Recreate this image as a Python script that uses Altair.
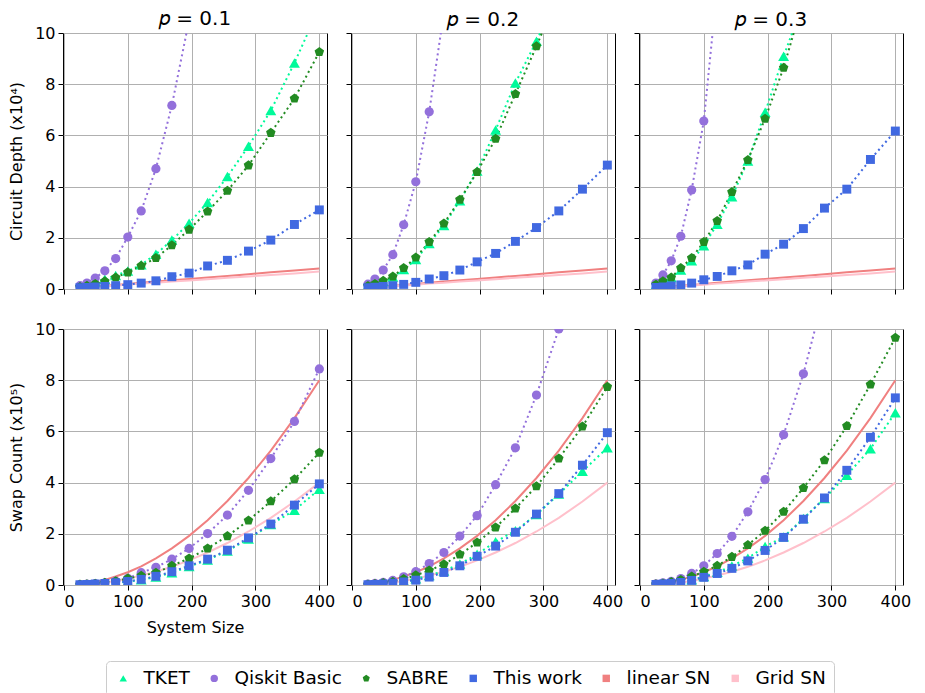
import altair as alt
import pandas as pd

# ---------------- data ----------------
sizes = [25, 36, 49, 64, 81, 100, 121, 144, 169, 196, 225, 256, 289, 324, 361, 400]

series_names = ["TKET", "Qiskit Basic", "SABRE", "This work", "linear SN", "Grid SN"]
series_colors = ["#00FA9A", "#9370DB", "#228B22", "#4169E1", "#F08080", "#FFC0CB"]
PENTAGON = "M0,-1L0.951,-0.309L0.588,0.809L-0.588,0.809L-0.951,-0.309Z"
series_shapes = ["triangle-up", "circle", PENTAGON, "square", "square", "square"]
marker_sizes = [120, 85, 100, 80, 80, 80]

p_labels = ["𝑝 = 0.1", "𝑝 = 0.2", "𝑝 = 0.3"]

# Circuit depth (x10^4)
depth_p01_tket = [0.10, 0.17, 0.27, 0.38, 0.53, 0.70, 0.95, 1.36, 1.91, 2.57, 3.38, 4.39, 5.58, 6.97, 8.83, 11.0]
depth_p01_qiskit = [0.13, 0.23, 0.43, 0.71, 1.19, 2.03, 3.05, 4.70, 7.17, 10.5]
depth_p01_sabre = [0.08, 0.13, 0.20, 0.30, 0.45, 0.65, 0.91, 1.21, 1.71, 2.32, 3.03, 3.84, 4.83, 6.10, 7.44, 9.26]
depth_p01_this = [0.05, 0.06, 0.08, 0.10, 0.13, 0.17, 0.23, 0.32, 0.48, 0.62, 0.90, 1.12, 1.48, 1.91, 2.52, 3.09]

depth_p02_tket = [0.12, 0.19, 0.29, 0.47, 0.76, 1.15, 1.78, 2.48, 3.45, 4.61, 6.21, 8.05, 9.68, 11.6]
depth_p02_qiskit = [0.19, 0.39, 0.74, 1.34, 2.51, 4.19, 6.92, 10.8]
depth_p02_sabre = [0.12, 0.20, 0.32, 0.49, 0.82, 1.23, 1.84, 2.56, 3.49, 4.57, 5.87, 7.62, 9.48, 11.6]
depth_p02_this = [0.05, 0.07, 0.10, 0.13, 0.18, 0.26, 0.39, 0.52, 0.74, 1.06, 1.39, 1.86, 2.40, 3.05, 3.90, 4.84]

depth_p03_tket = [0.16, 0.28, 0.45, 0.74, 1.10, 1.69, 2.53, 3.60, 5.00, 6.90, 9.09, 11.2]
depth_p03_qiskit = [0.23, 0.55, 1.10, 2.06, 3.87, 6.56, 11.8]
depth_p03_sabre = [0.17, 0.30, 0.45, 0.82, 1.21, 1.84, 2.66, 3.79, 5.04, 6.65, 8.64, 11.3]
depth_p03_this = [0.06, 0.08, 0.12, 0.16, 0.23, 0.36, 0.49, 0.71, 0.94, 1.36, 1.75, 2.36, 3.16, 3.90, 5.06, 6.17]

depth_linear_sn = [0.05, 0.07, 0.10, 0.13, 0.16, 0.20, 0.24, 0.29, 0.34, 0.39, 0.45, 0.51, 0.58, 0.65, 0.72, 0.80]
depth_grid_sn = [0.04, 0.06, 0.08, 0.11, 0.14, 0.17, 0.21, 0.24, 0.29, 0.33, 0.38, 0.44, 0.49, 0.55, 0.61, 0.68]

# Swap count (x10^5)
swap_p01_tket = [0.01, 0.02, 0.03, 0.05, 0.08, 0.13, 0.20, 0.31, 0.48, 0.72, 0.98, 1.33, 1.80, 2.36, 2.92, 3.74]
swap_p01_qiskit = [0.02, 0.03, 0.05, 0.08, 0.15, 0.26, 0.48, 0.69, 1.01, 1.43, 2.01, 2.73, 3.70, 4.94, 6.39, 8.44]
swap_p01_sabre = [0.02, 0.03, 0.05, 0.09, 0.15, 0.25, 0.36, 0.48, 0.75, 1.04, 1.43, 1.91, 2.52, 3.27, 4.13, 5.17]
swap_p01_this = [0.01, 0.02, 0.04, 0.06, 0.09, 0.14, 0.22, 0.34, 0.52, 0.75, 1.01, 1.36, 1.84, 2.38, 3.12, 3.95]

swap_p02_tket = [0.02, 0.03, 0.05, 0.09, 0.15, 0.24, 0.37, 0.55, 0.82, 1.20, 1.69, 2.12, 2.75, 3.55, 4.44, 5.36]
swap_p02_qiskit = [0.03, 0.06, 0.10, 0.18, 0.32, 0.52, 0.84, 1.27, 1.91, 2.71, 3.92, 5.36, 7.42, 10.0, 12.9]
swap_p02_sabre = [0.02, 0.04, 0.08, 0.13, 0.23, 0.38, 0.57, 0.81, 1.19, 1.66, 2.25, 2.99, 3.86, 4.94, 6.19, 7.74]
swap_p02_this = [0.01, 0.02, 0.04, 0.07, 0.12, 0.19, 0.31, 0.49, 0.75, 1.12, 1.52, 2.06, 2.77, 3.57, 4.68, 5.95]

swap_p03_tket = [0.02, 0.04, 0.07, 0.12, 0.20, 0.33, 0.50, 0.74, 1.05, 1.50, 1.88, 2.60, 3.38, 4.29, 5.32, 6.73]
swap_p03_qiskit = [0.04, 0.08, 0.14, 0.25, 0.45, 0.75, 1.23, 1.90, 2.86, 4.12, 5.87, 8.25, 11.4]
swap_p03_sabre = [0.03, 0.06, 0.12, 0.20, 0.33, 0.52, 0.75, 1.10, 1.56, 2.12, 2.86, 3.79, 4.87, 6.21, 7.83, 9.66]
swap_p03_this = [0.02, 0.04, 0.06, 0.10, 0.18, 0.30, 0.45, 0.65, 0.94, 1.35, 1.86, 2.57, 3.40, 4.48, 5.77, 7.31]

swap_linear_sn = [0.03, 0.06, 0.12, 0.20, 0.33, 0.50, 0.73, 1.04, 1.43, 1.92, 2.53, 3.28, 4.18, 5.25, 6.52, 8.00]
swap_grid_sn = [0.02, 0.03, 0.06, 0.10, 0.16, 0.25, 0.37, 0.52, 0.71, 0.96, 1.27, 1.64, 2.09, 2.62, 3.26, 4.00]

depth_panels = [
    [depth_p01_tket, depth_p01_qiskit, depth_p01_sabre, depth_p01_this, depth_linear_sn, depth_grid_sn],
    [depth_p02_tket, depth_p02_qiskit, depth_p02_sabre, depth_p02_this, depth_linear_sn, depth_grid_sn],
    [depth_p03_tket, depth_p03_qiskit, depth_p03_sabre, depth_p03_this, depth_linear_sn, depth_grid_sn],
]
swap_panels = [
    [swap_p01_tket, swap_p01_qiskit, swap_p01_sabre, swap_p01_this, swap_linear_sn, swap_grid_sn],
    [swap_p02_tket, swap_p02_qiskit, swap_p02_sabre, swap_p02_this, swap_linear_sn, swap_grid_sn],
    [swap_p03_tket, swap_p03_qiskit, swap_p03_sabre, swap_p03_this, swap_linear_sn, swap_grid_sn],
]


def to_df(series_lists):
    rows = []
    for name, vals, msize in zip(series_names, series_lists, marker_sizes):
        kind = "sn" if name.endswith("SN") else "alg"
        for x, v in zip(sizes, vals):
            rows.append({"series": name, "kind": kind, "x": x, "y": v, "msize": msize})
    return pd.DataFrame(rows)


# ---------------- styling ----------------
W, H = 264, 256

legend = alt.Legend(
    title=None, orient="none", legendX=43, legendY=628, direction="horizontal",
    columns=6, columnPadding=15, labelFontSize=18.5, labelOffset=11, symbolSize=55,
    padding=8, strokeColor="#cccccc", fillColor="white", cornerRadius=4,
    symbolStrokeWidth=0, labelColor="black", labelFont="DejaVu Sans",
)


def panel(series_lists, col, row):
    df = to_df(series_lists)
    xaxis = alt.Axis(values=[0, 100, 200, 300, 400], labels=(row == 1),
                     title=("System Size" if (row == 1 and col == 0) else None))
    yaxis = alt.Axis(values=[0, 2, 4, 6, 8, 10], labels=(col == 0),
                     title=(None if col != 0 else ("Circuit Depth (x10⁴)" if row == 0 else "Swap Count (x10⁵)")))
    xenc = alt.X("x:Q", scale=alt.Scale(domain=[-1.5, 412], nice=False, zero=False), axis=xaxis)
    yenc = alt.Y("y:Q", scale=alt.Scale(domain=[0, 10], nice=False), axis=yaxis)
    color = alt.Color("series:N", scale=alt.Scale(domain=series_names, range=series_colors), legend=legend)
    shape = alt.Shape("series:N", scale=alt.Scale(domain=series_names, range=series_shapes), legend=legend)
    base = alt.Chart(df)
    sn_lines = base.transform_filter(alt.datum.kind == "sn").mark_line(
        strokeWidth=2, clip=True).encode(x=xenc, y=yenc, color=color)
    alg_lines = base.transform_filter(alt.datum.kind == "alg").mark_line(
        strokeWidth=2, strokeDash=[2, 3.3], clip=True).encode(x=xenc, y=yenc, color=color)
    pts = base.transform_filter(alt.datum.kind == "alg").mark_point(
        filled=True, opacity=1, clip=True).encode(
        x=xenc, y=yenc, color=color, shape=shape,
        size=alt.Size("msize:Q", scale=None),
    )
    layer = alt.layer(sn_lines, alg_lines, pts).properties(width=W, height=H)
    if row == 0:
        layer = layer.properties(title=alt.TitleParams(p_labels[col], fontSize=20, fontWeight="normal",
                                                       offset=(-4 if col == 0 else 3), color="black",
                                                       font="DejaVu Sans"))
    return layer


panels = [panel(depth_panels[c], c, 0) for c in range(3)] + [panel(swap_panels[c], c, 1) for c in range(3)]

chart = alt.concat(*panels, columns=3, spacing=alt.RowColnumber(row=40, column=24), bounds="flush").properties(
    padding={"left": 0, "right": 0, "top": 0, "bottom": 0}
).configure(
    font="DejaVu Sans"
).configure_view(
    stroke="black", strokeWidth=1
).configure_axis(
    domain=False, grid=True, gridColor="#b0b0b0", gridWidth=1, tickColor="black", tickSize=5,
    tickWidth=1, labelFontSize=16, titleFontSize=16, labelColor="black", titleColor="black",
    titleFontWeight="normal", labelFont="DejaVu Sans", titleFont="DejaVu Sans", labelPadding=3,
    titlePadding=10,
)

chart.save("out.html", embed_options={"renderer": "svg", "actions": False})
